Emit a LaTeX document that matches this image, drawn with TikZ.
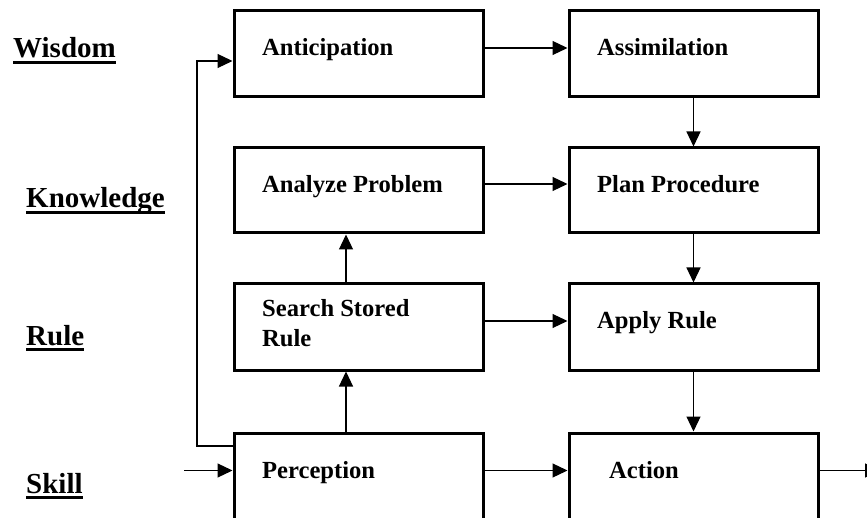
\documentclass[tikz,border=0pt]{standalone}
\usepackage{fontspec}
\setmainfont{Liberation Serif}
\usetikzlibrary{arrows.meta}
\begin{document}
\begin{tikzpicture}[x=1pt,y=-1pt,
  box/.style={draw, line width=3pt, minimum width=249pt, minimum height=86pt, inner sep=0pt},
  boxtext/.style={anchor=base west, inner sep=0pt, align=left,
    font=\fontsize{24.6}{29}\selectfont\bfseries},
  level/.style={anchor=base west, inner sep=0pt,
    font=\fontsize{29}{34}\selectfont\bfseries},
  uline/.style={line width=2.5pt},
  arr/.style={line width=1.2pt, -{Triangle[length=15pt,width=14pt]}}]
\useasboundingbox (0,0) rectangle (867,518);
\clip (0,0) rectangle (867,518);

% level labels
\node[level] (wis) at (13,58) {Wisdom};
\node[level] (kno) at (26,208) {Knowledge};
\node[level] (rul) at (26,345) {Rule};
\node[level] (ski) at (26,493) {Skill};
\foreach \l in {wis,kno,rul,ski}
  \draw[uline] ([yshift=-4.5pt]\l.base west) -- ([yshift=-4.5pt]\l.base east);

% boxes
\node[box] (ant) at (358.5,54) {};
\node[box] (asm) at (693.5,54) {};
\node[box, minimum height=85pt] (ana) at (358.5,190.5) {};
\node[box, minimum height=85pt] (pln) at (693.5,190.5) {};
\node[box] (srch) at (358.5,327) {};
\node[box] (apl) at (693.5,327) {};
\node[box, minimum height=100pt] (perc) at (358.5,483) {};
\node[box, minimum height=100pt] (act) at (693.5,483) {};

% box captions (base anchor of a two-line caption sits on its last line)
\node[boxtext] (tant) at (262,56) {Anticipation};
\node[boxtext] (tasm) at (597,56) {Assimilation};
\node[boxtext] (tana) at (262,193) {Analyze Problem};
\node[boxtext] (tpln) at (597,193) {Plan Procedure};
\node[boxtext] (tsrch) at (262,346) {Search Stored\\Rule};
\node[boxtext] (tapl) at (597,329) {Apply Rule};
\node[boxtext] (tperc) at (262,478) {Perception};
\node[boxtext] (tact) at (609,478) {Action};

% free ends
\coordinate (inp) at (184,470.5);
\coordinate (outp) at (880,470.5);
\coordinate (fbx) at (197,0);
\coordinate (fbout) at ([yshift=37pt]perc.west);
\coordinate (fbin) at ([yshift=-7pt]ant.west);

% connectors
\draw[arr] ([yshift=6pt]ant.east) -- ([yshift=6pt]asm.west);
\draw[arr] ([yshift=6.5pt]ana.east) -- ([yshift=6.5pt]pln.west);
\draw[arr] ([yshift=6pt]srch.east) -- ([yshift=6pt]apl.west);
\draw[arr] ([yshift=12.5pt]perc.east) -- ([yshift=12.5pt]act.west);
\draw[arr] ([yshift=12.5pt]act.east) -- (outp);
\draw[arr] (inp) -- ([yshift=12.5pt]perc.west);

\draw[arr] (asm.south) -- (pln.north);
\draw[arr] (pln.south) -- (apl.north);
\draw[arr] (apl.south) -- (act.north);
\draw[arr] ([xshift=-12.5pt]perc.north) -- ([xshift=-12.5pt]srch.south);
\draw[arr] ([xshift=-12.5pt]srch.north) -- ([xshift=-12.5pt]ana.south);

\draw[arr] (fbout) -- (fbout -| fbx) -- (fbin -| fbx) -- (fbin);
\end{tikzpicture}
\end{document}
